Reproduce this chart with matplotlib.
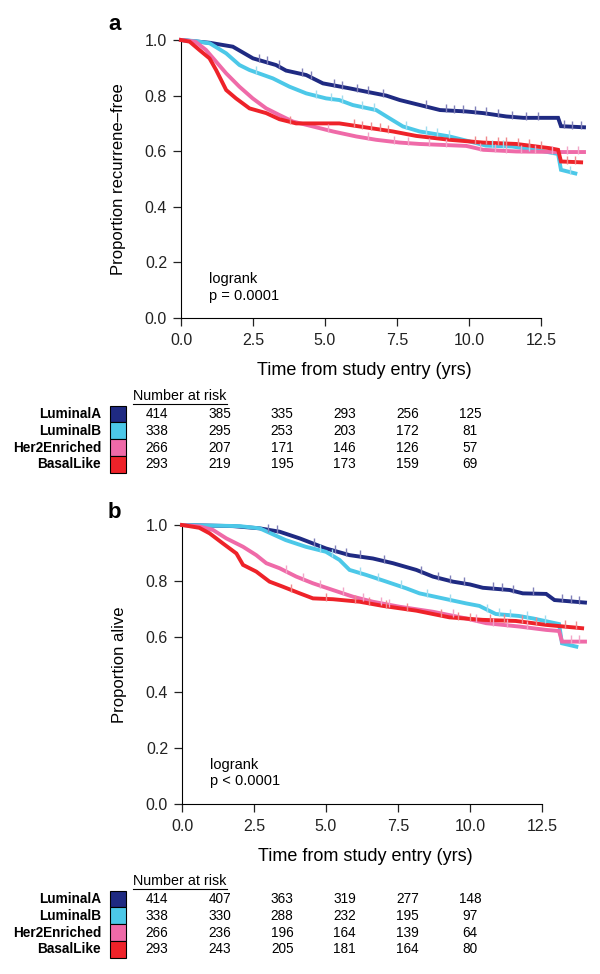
import numpy as np
import matplotlib.pyplot as plt

plt.rcParams['font.family'] = ['Liberation Sans', 'DejaVu Sans']

groups = ['LuminalA', 'LuminalB', 'Her2Enriched', 'BasalLike']
colors = ['#1f2a82', '#4cc8e8', '#ef6aa8', '#ee2229']
tick_colors = ['#8080b8', '#a0dcef', '#f2a6c8', '#f08a8e']

# panel a: recurrence-free (time in yrs, survival)
rfs_t = {
    'LuminalA': [0, 1.0, 1.8, 2.5, 3.3, 3.65, 4.35, 4.93, 5.86, 6.44, 7.13, 7.6, 8.3, 9.0, 9.9, 10.5, 11.3, 11.9, 13.1, 13.2, 14.0],
    'LuminalB': [0, 0.5, 1.0, 1.57, 2.03, 2.38, 3.19, 3.77, 4.35, 5.04, 5.5, 5.97, 6.78, 7.25, 7.71, 8.29, 9.33, 10.03, 10.6, 11.5, 12.58, 13.1, 13.2, 13.7],
    'Her2Enriched': [0, 0.5, 0.87, 1.22, 1.57, 2.03, 2.49, 2.96, 3.42, 3.88, 4.58, 5.28, 6.09, 6.78, 7.6, 8.29, 9.91, 10.5, 11.65, 13.16, 14.0],
    'BasalLike': [0, 0.3, 0.64, 0.99, 1.22, 1.57, 1.91, 2.38, 2.96, 3.42, 4.0, 5.5, 6.2, 7.36, 8.17, 9.33, 10.5, 11.65, 12.8, 13.1, 13.2, 13.9],
}
rfs_s = {
    'LuminalA': [1.0, 0.99, 0.976, 0.934, 0.91, 0.89, 0.874, 0.844, 0.826, 0.814, 0.80, 0.784, 0.766, 0.748, 0.743, 0.737, 0.725, 0.72, 0.72, 0.69, 0.686],
    'LuminalB': [1.0, 0.996, 0.988, 0.952, 0.91, 0.892, 0.862, 0.832, 0.808, 0.79, 0.784, 0.766, 0.748, 0.718, 0.689, 0.671, 0.653, 0.635, 0.62, 0.617, 0.60, 0.59, 0.533, 0.52],
    'Her2Enriched': [1.0, 0.994, 0.964, 0.922, 0.88, 0.832, 0.79, 0.754, 0.73, 0.707, 0.689, 0.671, 0.653, 0.641, 0.631, 0.626, 0.619, 0.605, 0.599, 0.597, 0.597],
    'BasalLike': [1.0, 0.994, 0.964, 0.934, 0.892, 0.82, 0.79, 0.754, 0.737, 0.715, 0.70, 0.70, 0.689, 0.671, 0.655, 0.641, 0.631, 0.626, 0.611, 0.605, 0.563, 0.56],
}
rfs_cens = {
    'LuminalA': [2.7, 3.0, 3.4, 4.2, 4.5, 5.3, 5.6, 6.1, 6.5, 7.0, 8.5, 9.2, 9.5, 9.8, 10.2, 10.6, 11.0, 11.5, 12.0, 12.4, 13.3, 13.6, 13.9],
    'LuminalB': [2.6, 4.7, 5.2, 5.6, 6.3, 6.7, 7.8, 8.5, 8.9, 9.3, 10.8, 11.2, 12.1, 13.5],
    'Her2Enriched': [5.1, 6.5, 7.4, 7.9, 8.6, 9.2, 10.4, 10.9, 11.3, 11.8, 12.3, 12.9, 13.4, 13.8],
    'BasalLike': [3.8, 6.0, 6.3, 6.6, 6.9, 7.2, 10.2, 10.6, 11.0, 11.3, 11.7, 12.1, 12.5, 13.4, 13.7],
}

# panel b: overall survival
os_t = {
    'LuminalA': [0, 1.77, 2.7, 3.39, 4.09, 5.0, 5.82, 6.63, 7.33, 8.14, 8.72, 9.41, 10.0, 10.45, 11.38, 11.84, 12.65, 12.94, 14.0],
    'LuminalB': [0, 2.0, 2.7, 3.6, 4.3, 5.0, 5.47, 5.82, 6.4, 7.1, 7.79, 8.25, 9.06, 9.87, 10.33, 10.9, 11.7, 12.2, 13.1, 13.2, 13.7],
    'Her2Enriched': [0, 0.6, 1.08, 1.54, 2.12, 2.58, 2.93, 3.39, 3.97, 4.55, 5.24, 5.94, 6.63, 7.56, 8.72, 9.87, 10.57, 11.72, 12.65, 13.1, 13.2, 14.0],
    'BasalLike': [0, 0.6, 0.96, 1.42, 1.89, 2.12, 2.58, 3.04, 3.5, 4.09, 4.55, 5.24, 6.17, 6.98, 8.14, 9.29, 10.45, 11.6, 12.65, 13.9],
}
os_s = {
    'LuminalA': [1.0, 0.996, 0.988, 0.976, 0.952, 0.916, 0.892, 0.88, 0.863, 0.839, 0.815, 0.797, 0.787, 0.775, 0.767, 0.755, 0.753, 0.731, 0.722],
    'LuminalB': [1.0, 0.996, 0.988, 0.946, 0.922, 0.904, 0.875, 0.839, 0.821, 0.797, 0.773, 0.755, 0.737, 0.719, 0.71, 0.681, 0.674, 0.665, 0.645, 0.576, 0.564],
    'Her2Enriched': [1.0, 0.995, 0.982, 0.952, 0.922, 0.892, 0.863, 0.845, 0.815, 0.791, 0.767, 0.743, 0.725, 0.707, 0.689, 0.665, 0.648, 0.636, 0.624, 0.62, 0.582, 0.582],
    'BasalLike': [1.0, 0.99, 0.97, 0.934, 0.898, 0.857, 0.833, 0.797, 0.779, 0.755, 0.737, 0.734, 0.725, 0.71, 0.693, 0.669, 0.66, 0.656, 0.642, 0.63],
}
os_cens = {
    'LuminalA': [3.0, 3.3, 4.6, 5.3, 5.7, 6.2, 7.0, 8.3, 8.9, 9.3, 9.8, 10.8, 11.1, 11.5, 12.2, 13.2, 13.5, 13.8],
    'LuminalB': [4.8, 5.2, 6.2, 6.8, 7.6, 8.5, 9.3, 10.6, 11.0, 11.4, 12.0, 12.6],
    'Her2Enriched': [3.6, 4.2, 4.8, 5.6, 6.3, 6.9, 7.2, 9.4, 10.2, 10.8, 11.3, 12.0, 13.5, 13.8],
    'BasalLike': [3.8, 5.0, 6.0, 6.5, 7.1, 7.8, 9.0, 9.6, 10.0, 10.7, 11.2, 11.8, 12.3, 13.3, 13.7],
}

risk_a = [[414, 385, 335, 293, 256, 125],
          [338, 295, 253, 203, 172, 81],
          [266, 207, 171, 146, 126, 57],
          [293, 219, 195, 173, 159, 69]]
risk_b = [[414, 407, 363, 319, 277, 148],
          [338, 330, 288, 232, 195, 97],
          [266, 236, 196, 164, 139, 64],
          [293, 243, 205, 181, 164, 80]]

W, H = 600, 974
fig = plt.figure(figsize=(W / 100, H / 100), dpi=100)


def fx(px):
    return px / W


def fy(py):
    return 1 - py / H


def km_panel(ax_rect, times, surv, cens, ylab, ptext):
    ax = fig.add_axes(ax_rect)
    for g, c, tc in zip(groups, colors, tick_colors):
        t = np.array(times[g])
        s = np.array(surv[g])
        ax.plot(t, s, color=c, lw=2.8, clip_on=False, zorder=3, solid_joinstyle='miter')
        ct = np.array(cens[g])
        ax.plot(ct, np.interp(ct, t, s) + 0.008, '|', color=tc, ms=6, mew=1.0, clip_on=False, zorder=4)
    ax.set_xlim(0, 14.0)
    ax.set_ylim(0, 1.0)
    for sp in ['top', 'right']:
        ax.spines[sp].set_visible(False)
    ax.spines['left'].set_bounds(0, 1)
    ax.spines['bottom'].set_bounds(0, 12.5)
    ax.set_xticks(np.arange(0, 12.6, 2.5))
    ax.set_xticklabels(['%.1f' % v for v in np.arange(0, 12.6, 2.5)])
    ax.set_yticks(np.arange(0, 1.01, 0.2))
    ax.set_yticklabels(['%.1f' % v for v in np.arange(0, 1.01, 0.2)])
    ax.tick_params(direction='out', length=6, width=0.9, labelsize=11.5, colors='#222222')
    ax.tick_params(axis='x', pad=5)
    ax.tick_params(axis='y', pad=4)
    ax.set_ylabel(ylab, fontsize=12)
    ax.yaxis.set_label_coords(-0.136, 0.5)
    ax.set_xlabel('Time from study entry (yrs)', fontsize=13)
    ax.xaxis.set_label_coords(0.455, -0.157)
    ax.text(0.98, 0.11, 'logrank\n' + ptext, fontsize=10.5, va='center', ha='left', linespacing=1.2)
    return ax


def risk_table(ytop, risk):
    fig.text(fx(180), fy(ytop), 'Number at risk', fontsize=10.3, ha='center', va='center')
    fig.add_artist(plt.Line2D([fx(133), fx(227)], [fy(ytop + 8), fy(ytop + 8)], color='black', lw=0.8))
    row_h = 16.8
    for i, g in enumerate(groups):
        yc = ytop + 18 + row_h * i
        fig.text(fx(101), fy(yc), g, fontsize=9.8, fontweight='bold', ha='right', va='center')
        fig.add_artist(plt.Rectangle((fx(110), fy(yc + row_h / 2)), fx(16), row_h / H,
                                     facecolor=colors[i], edgecolor='black', lw=0.8))
        for j, n in enumerate(risk[i]):
            fig.text(fx(157 + 62.6 * j), fy(yc), str(n), fontsize=9.8, ha='center', va='center')


km_panel([fx(181), fy(318), fx(403), 278 / H], rfs_t, rfs_s, rfs_cens,
         'Proportion recurrene\u2013free', 'p = 0.0001')
km_panel([fx(182), fy(804), fx(403), 279 / H], os_t, os_s, os_cens,
         'Proportion alive', 'p < 0.0001')

fig.text(fx(108), fy(24), 'a', fontsize=16, fontweight='bold', ha='left', va='center')
fig.text(fx(108), fy(512), 'b', fontsize=16, fontweight='bold', ha='left', va='center')

risk_table(396, risk_a)
risk_table(881, risk_b)

fig.savefig('out.png', dpi=100, facecolor='white')
